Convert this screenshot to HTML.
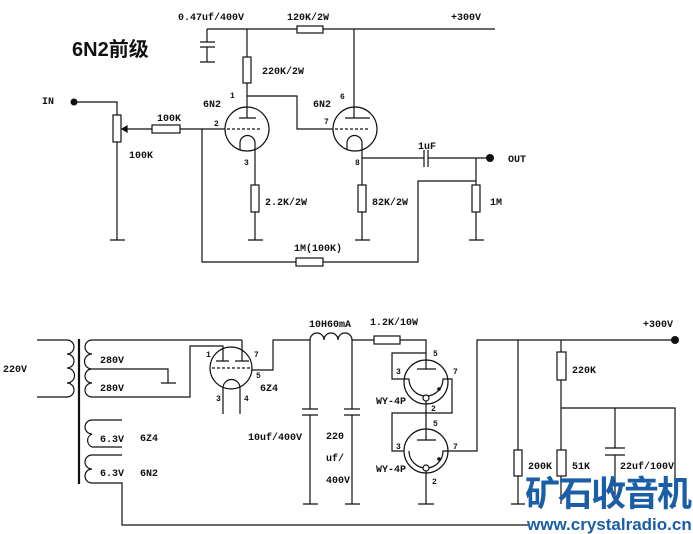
<!DOCTYPE html>
<html><head><meta charset="utf-8"><style>
html,body{margin:0;padding:0;background:#fff}
svg{display:block}
text{font-family:"Liberation Mono",monospace;font-weight:bold;font-size:10px;fill:#111}
</style></head><body>
<svg width="693" height="534" viewBox="0 0 693 534" xmlns="http://www.w3.org/2000/svg">
<g stroke="#111" stroke-width="1.2" fill="none">
<!-- top rail -->
<path d="M207 29H297M323 29H495"/>
<rect x="297" y="26" width="26" height="7"/>
<!-- bypass cap -->
<path d="M207 29V42M200 42H215M200 47H215M207 47V62M200 62H215"/>
<!-- 220K -->
<path d="M247 29V57M247 83V118"/>
<rect x="243" y="57" width="8" height="26"/>
<path d="M247 96H297V129H333"/>
<!-- tube1 -->
<circle cx="247" cy="129" r="22"/>
<path d="M239 118H256"/>
<path d="M227 129H262" stroke-dasharray="3,2"/>
<path d="M240 150V143A7.5 7.5 0 0 1 255 143V185"/>
<rect x="251" y="185" width="8" height="27"/>
<path d="M255 212V240M248 240H263"/>
<!-- input -->
<path d="M74 102H117V115M117 142V240M110 240H125"/>
<rect x="113" y="115" width="8" height="27"/>
<path d="M127 129H152M180 129H225"/>
<rect x="152" y="125" width="28" height="8"/>
<path d="M122 129L127 126V132Z" fill="#111"/>
<!-- feedback -->
<path d="M202 129V262H296M323 262H418V181H476"/>
<rect x="296" y="258" width="27" height="8"/>
<!-- tube2 -->
<path d="M354 29V118"/>
<circle cx="355" cy="129" r="22"/>
<path d="M345 118H370"/>
<path d="M335 129H370" stroke-dasharray="3,2"/>
<path d="M347 150V143A7.5 7.5 0 0 1 362 143V185"/>
<path d="M362 158H424M428 158H490"/>
<path d="M424 150V167M428 150V167"/>
<rect x="358" y="185" width="8" height="27"/>
<path d="M362 212V240M355 240H370"/>
<path d="M476 158V185M476 212V240M469 240H484"/>
<rect x="472" y="185" width="8" height="27"/>
</g>
<circle cx="74" cy="102" r="3.5" fill="#111"/>
<circle cx="490" cy="158" r="4" fill="#111"/>
<g>
<text x="178" y="20">0.47uf/400V</text>
<text x="287" y="20">120K/2W</text>
<text x="451" y="20">+300V</text>
<text x="262" y="74">220K/2W</text>
<text x="42" y="104">IN</text>
<text x="157" y="121">100K</text>
<text x="129" y="158">100K</text>
<text x="203" y="107">6N2</text>
<text x="230" y="98" style="font-size:8px">1</text>
<text x="214" y="126" style="font-size:8px">2</text>
<text x="244" y="165" style="font-size:8px">3</text>
<text x="265" y="205">2.2K/2W</text>
<text x="313" y="107">6N2</text>
<text x="340" y="99" style="font-size:8px">6</text>
<text x="324" y="124" style="font-size:8px">7</text>
<text x="355" y="165" style="font-size:8px">8</text>
<text x="418" y="149">1uF</text>
<text x="508" y="162">OUT</text>
<text x="372" y="205">82K/2W</text>
<text x="490" y="205">1M</text>
<text x="294" y="251">1M(100K)</text>
<text x="72" y="56" style="font-size:20px;font-family:'Liberation Sans','Noto Sans CJK SC',sans-serif">6N2前级</text>
</g>

<!-- power supply -->
<g stroke="#111" stroke-width="1.2" fill="none">
<path d="M37 340H67A7 7 0 0 1 67 354A7 7 0 0 1 67 368A7 7 0 0 1 67 383A7 7 0 0 1 67 397H37"/>
<path d="M79 339V484" stroke-width="2.2"/>
<path d="M242 340H92A7 7 0 0 0 92 354A7 7 0 0 0 92 369A7 7 0 0 0 92 383A7 7 0 0 0 92 397H190V346H223V361"/>
<path d="M92 369H168V383M161 383H176"/>
<path d="M242 340V361"/>
<circle cx="231" cy="368" r="21"/>
<path d="M216 361H229M235 361H249"/>
<path d="M212 368H250" stroke-dasharray="3,2"/>
<path d="M223 414V388A8.5 8.5 0 0 1 240 388V414"/>
<path d="M252 370H273V340H310"/>
<path d="M310 340A7 7 0 0 1 324 340A7 7 0 0 1 338 340A7 7 0 0 1 352 340H374M400 340H426V369"/>
<rect x="374" y="336" width="26" height="8"/>
<path d="M310 340V409M302 409H318M302 415H318M310 415V504M303 504H318"/>
<path d="M352 340V409M344 409H360M344 415H360M352 415V504M345 504H360"/>
<!-- heater windings -->
<path d="M122 420H92A7 7 0 0 0 92 434A7 7 0 0 0 92 447H122"/>
<path d="M122 455H92A7 7 0 0 0 92 469A7 7 0 0 0 92 483H122V525H530"/>
<!-- WY-4P upper -->
<circle cx="426" cy="382" r="22"/>
<path d="M417 369H436"/>
<path d="M426 353H392V379H409A17 17 0 0 0 443 379H452V413H426"/>
<circle cx="426" cy="398" r="3" fill="#fff"/>
<path d="M426 401V430M426 413H392V451H404"/>
<!-- lower -->
<circle cx="426" cy="451" r="22"/>
<path d="M417 440H436M426 430V440"/>
<path d="M409 451A17 17 0 0 0 443 451H477V340H675"/>
<circle cx="426" cy="468" r="3" fill="#fff"/>
<path d="M426 471V504M418 504H434"/>
<!-- right -->
<path d="M518 340V450M518 476V504M511 504H525"/>
<rect x="514" y="450" width="8" height="26"/>
<path d="M561 340V352M561 380V450M561 476V504"/>
<rect x="557" y="352" width="9" height="28"/>
<rect x="557" y="450" width="9" height="26"/>
<path d="M561 408H675V507"/>
<path d="M615 408V448M605 448H625M605 455H625M615 455V504"/>
</g>
<circle cx="439" cy="389" r="1.8" fill="#111"/>
<circle cx="439" cy="459" r="1.8" fill="#111"/>
<circle cx="675" cy="340" r="4" fill="#111"/>
<g>
<text x="3" y="372">220V</text>
<text x="100" y="363">280V</text>
<text x="100" y="391">280V</text>
<text x="100" y="442">6.3V</text>
<text x="140" y="441">6Z4</text>
<text x="100" y="476">6.3V</text>
<text x="140" y="476">6N2</text>
<text x="206" y="357" style="font-size:8px">1</text>
<text x="254" y="357" style="font-size:8px">7</text>
<text x="256" y="378" style="font-size:8px">5</text>
<text x="260" y="391">6Z4</text>
<text x="216" y="401" style="font-size:8px">3</text>
<text x="244" y="401" style="font-size:8px">4</text>
<text x="309" y="327">10H60mA</text>
<text x="370" y="325">1.2K/10W</text>
<text x="248" y="440">10uf/400V</text>
<text x="326" y="439">220</text>
<text x="326" y="461">uf/</text>
<text x="326" y="483">400V</text>
<text x="433" y="356" style="font-size:8px">5</text>
<text x="396" y="374" style="font-size:8px">3</text>
<text x="453" y="374" style="font-size:8px">7</text>
<text x="376" y="404">WY-4P</text>
<text x="431" y="411" style="font-size:8px">2</text>
<text x="433" y="426" style="font-size:8px">5</text>
<text x="396" y="449" style="font-size:8px">3</text>
<text x="453" y="449" style="font-size:8px">7</text>
<text x="376" y="472">WY-4P</text>
<text x="432" y="484" style="font-size:8px">2</text>
<text x="643" y="327">+300V</text>
<text x="572" y="373">220K</text>
<text x="528" y="469">200K</text>
<text x="572" y="469">51K</text>
<text x="620" y="469">22uf/100V</text>
<text x="525" y="506" style="font-size:35px;font-weight:bold;fill:#1b5ea8;font-family:'Liberation Sans','Noto Sans CJK SC',sans-serif;letter-spacing:-2px">矿石收音机</text>
<text x="527" y="530" style="font-size:17px;font-weight:bold;fill:#1b5ea8;font-family:'Liberation Sans',sans-serif">www.crystalradio.cn</text>
</g>
</svg>
</body></html>
